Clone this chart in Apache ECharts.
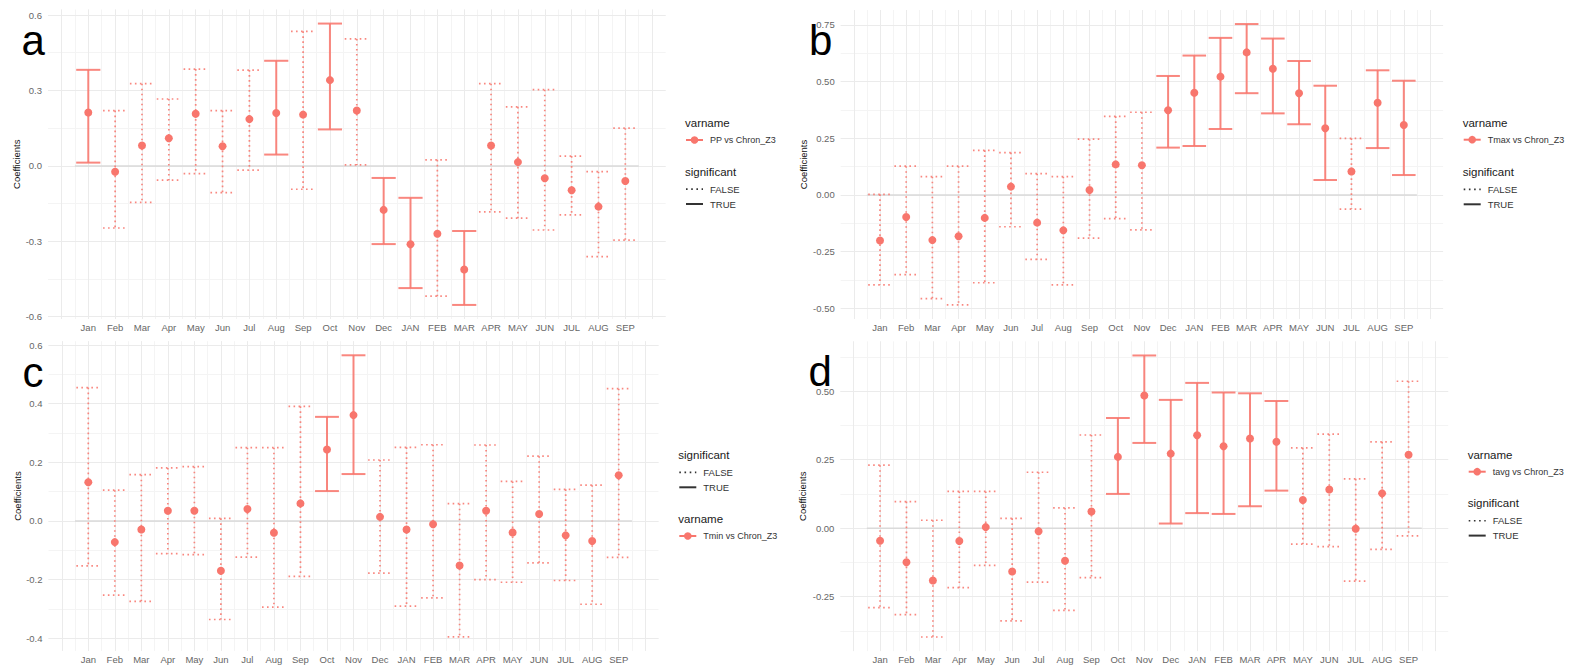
<!DOCTYPE html>
<html>
<head>
<meta charset="utf-8">
<script src="https://cdn.jsdelivr.net/npm/echarts@6/dist/echarts.min.js"></script>
<style>
html, body { margin: 0; padding: 0; background: #fff; }
#chart { width: 1576px; height: 667px; }
</style>
</head>
<body>
<div id="chart"></div>
<script>
// categories (hydrological year: previous Jan..Dec, current JAN..SEP)
var months = ['Jan', 'Feb', 'Mar', 'Apr', 'May', 'Jun', 'Jul', 'Aug', 'Sep', 'Oct', 'Nov', 'Dec',
    'JAN', 'FEB', 'MAR', 'APR', 'MAY', 'JUN', 'JUL', 'AUG', 'SEP'];

// a: PP vs Chron_Z3
var ppEst = [0.212, -0.023, 0.081, 0.110, 0.207, 0.078, 0.186, 0.210, 0.204, 0.341, 0.220, -0.175,
    -0.312, -0.270, -0.412, 0.081, 0.015, -0.049, -0.097, -0.162, -0.060];
var ppLow = [0.013, -0.247, -0.145, -0.057, -0.031, -0.106, -0.017, 0.045, -0.093, 0.145, 0.004, -0.311,
    -0.486, -0.518, -0.553, -0.183, -0.208, -0.255, -0.195, -0.361, -0.295];
var ppHigh = [0.382, 0.220, 0.327, 0.266, 0.385, 0.220, 0.381, 0.418, 0.535, 0.566, 0.505, -0.048,
    -0.127, 0.024, -0.259, 0.327, 0.235, 0.303, 0.039, -0.023, 0.150];
var ppSig = [1, 0, 0, 0, 0, 0, 0, 1, 0, 1, 0, 1, 1, 0, 1, 0, 0, 0, 0, 0, 0];

// b: Tmax vs Chron_Z3
var tmaxEst = [-0.201, -0.097, -0.199, -0.182, -0.101, 0.037, -0.122, -0.156, 0.022, 0.135, 0.131, 0.374,
    0.451, 0.522, 0.629, 0.557, 0.449, 0.294, 0.104, 0.407, 0.309];
var tmaxLow = [-0.396, -0.351, -0.457, -0.485, -0.387, -0.140, -0.284, -0.396, -0.190, -0.104, -0.154, 0.209,
    0.216, 0.291, 0.449, 0.360, 0.312, 0.066, -0.062, 0.207, 0.088];
var tmaxHigh = [0.003, 0.127, 0.081, 0.127, 0.197, 0.187, 0.094, 0.081, 0.246, 0.347, 0.365, 0.525,
    0.615, 0.693, 0.754, 0.690, 0.591, 0.482, 0.250, 0.550, 0.504];
var tmaxSig = [0, 0, 0, 0, 0, 0, 0, 0, 0, 0, 0, 1, 1, 1, 1, 1, 1, 1, 0, 1, 1];

// c: Tmin vs Chron_Z3
var tminEst = [0.132, -0.072, -0.029, 0.035, 0.035, -0.170, 0.041, -0.040, 0.060, 0.244, 0.361, 0.014,
    -0.029, -0.011, -0.152, 0.035, -0.039, 0.024, -0.049, -0.068, 0.156];
var tminLow = [-0.153, -0.253, -0.274, -0.111, -0.115, -0.336, -0.123, -0.294, -0.189, 0.102, 0.160, -0.178,
    -0.290, -0.262, -0.395, -0.200, -0.209, -0.143, -0.203, -0.284, -0.124];
var tminHigh = [0.455, 0.105, 0.158, 0.181, 0.185, 0.009, 0.250, 0.250, 0.391, 0.355, 0.565, 0.208,
    0.251, 0.260, 0.059, 0.259, 0.135, 0.221, 0.108, 0.122, 0.451];
var tminSig = [0, 0, 0, 0, 0, 0, 0, 0, 0, 1, 1, 0, 0, 0, 0, 0, 0, 0, 0, 0, 0];

// d: tavg vs Chron_Z3
var tavgEst = [-0.046, -0.124, -0.191, -0.047, 0.004, -0.158, -0.011, -0.119, 0.061, 0.260, 0.484, 0.272,
    0.339, 0.299, 0.327, 0.315, 0.103, 0.141, -0.002, 0.127, 0.268];
var tavgLow = [-0.290, -0.315, -0.397, -0.217, -0.136, -0.338, -0.197, -0.300, -0.180, 0.125, 0.311, 0.017,
    0.055, 0.052, 0.080, 0.137, -0.058, -0.067, -0.193, -0.077, -0.028];
var tavgHigh = [0.230, 0.097, 0.029, 0.134, 0.134, 0.036, 0.204, 0.074, 0.340, 0.402, 0.630, 0.468,
    0.530, 0.495, 0.492, 0.464, 0.293, 0.343, 0.180, 0.315, 0.536];
var tavgSig = [0, 0, 0, 0, 0, 0, 0, 0, 0, 1, 1, 1, 1, 1, 1, 1, 0, 0, 0, 0, 0];

var RED = '#F8766D';
var FONT = '"Liberation Sans", Arial, sans-serif';

var panels = [
    { letter: 'a', name: 'PP vs Chron_Z3', est: ppEst, low: ppLow, high: ppHigh, sig: ppSig,
      major: 0.3, digits: 1, grid: { left: 48, top: 9.5, width: 617.6, height: 309.5 },
      nameGap: 26, letterPos: [21.5, 40.5], legX: 685, varY: 123.3, sigY: 171.7 },
    { letter: 'b', name: 'Tmax vs Chron_Z3', est: tmaxEst, low: tmaxLow, high: tmaxHigh, sig: tmaxSig,
      major: 0.25, digits: 2, grid: { left: 840.7, top: 10, width: 602.4, height: 309 },
      nameGap: 32.5, letterPos: [809, 40.5], legX: 1462.7, varY: 123, sigY: 172 },
    { letter: 'c', name: 'Tmin vs Chron_Z3', est: tminEst, low: tminLow, high: tminHigh, sig: tminSig,
      major: 0.2, digits: 1, grid: { left: 48.5, top: 341.2, width: 610, height: 309.7 },
      nameGap: 26.5, letterPos: [22.5, 372.5], legX: 678.3, varY: 519.3, sigY: 455 },
    { letter: 'd', name: 'tavg vs Chron_Z3', est: tavgEst, low: tavgLow, high: tavgHigh, sig: tavgSig,
      major: 0.25, digits: 2, grid: { left: 840.4, top: 341.4, width: 607.8, height: 309.7 },
      nameGap: 32.5, letterPos: [808.5, 371.5], legX: 1467.7, varY: 455, sigY: 503.3 }
];

function isMultiple(v, step) {
    var k = Math.round(v / step);
    return Math.abs(v - k * step) < 1e-6;
}

function renderErrorBar(params, api) {
    var x = api.value(0);
    var top = api.coord([x, api.value(2)]);
    var bot = api.coord([x, api.value(1)]);
    var half = api.size([0.9, 0])[0] / 2;
    var solid = api.value(3) === 1;
    var style = {
        stroke: RED,
        fill: null,
        lineWidth: solid ? 2 : 1.7,
        lineDash: solid ? null : [1.6, 3.4],
        opacity: 0.88
    };
    return {
        type: 'group',
        children: [
            { type: 'line', shape: { x1: top[0], y1: top[1], x2: bot[0], y2: bot[1] }, style: style },
            { type: 'line', shape: { x1: top[0] - half, y1: top[1], x2: top[0] + half, y2: top[1] }, style: style },
            { type: 'line', shape: { x1: bot[0] - half, y1: bot[1], x2: bot[0] + half, y2: bot[1] }, style: style }
        ]
    };
}

// grid lines without the frame at the panel edges
function gridLine(color) {
    return { showMinLine: false, showMaxLine: false, lineStyle: { color: color, width: 1 } };
}

var grids = [], xAxes = [], yAxes = [], series = [], graphics = [];

panels.forEach(function (p, i) {
    grids.push(p.grid);

    var lo = Math.min.apply(null, p.low);
    var hi = Math.max.apply(null, p.high);
    var span = hi - lo;
    var yMin = lo - 0.05 * span;
    var yMax = hi + 0.05 * span;
    var xMax = months.length + 1.5;

    // major x axis (labels + major lines)
    xAxes.push({
        type: 'value', gridIndex: i, min: -0.5, max: xMax, minInterval: 1, maxInterval: 1, z: 1,
        axisLine: { show: false }, axisTick: { show: false },
        axisLabel: {
            margin: 3.5, fontSize: 9.5, color: '#666', fontFamily: FONT,
            formatter: function (v) {
                var k = Math.round(v);
                return (isMultiple(v, 1) && k >= 1 && k <= months.length) ? months[k - 1] : '';
            }
        },
        splitLine: gridLine('#ebebeb')
    });
    // minor x axis (half-step lines)
    xAxes.push({
        type: 'value', gridIndex: i, min: -0.5, max: xMax, interval: 0.5, z: 0, position: 'bottom',
        axisLine: { show: false }, axisTick: { show: false }, axisLabel: { show: false },
        splitLine: gridLine('#f4f4f4')
    });

    // major y axis
    yAxes.push({
        type: 'value', gridIndex: i, min: yMin, max: yMax, minInterval: p.major, maxInterval: p.major, z: 1,
        name: 'Coefficients', nameLocation: 'middle', nameGap: p.nameGap,
        nameTextStyle: { fontSize: 9.5, color: '#111', fontFamily: FONT },
        axisLine: { show: false }, axisTick: { show: false },
        axisLabel: {
            margin: 6, fontSize: 9.5, color: '#666', fontFamily: FONT,
            formatter: function (v) {
                if (!isMultiple(v, p.major)) return '';
                return (Math.round(v / p.major) * p.major).toFixed(p.digits);
            }
        },
        splitLine: gridLine('#ebebeb')
    });
    // minor y axis
    yAxes.push({
        type: 'value', gridIndex: i, min: yMin, max: yMax, minInterval: p.major / 2, maxInterval: p.major / 2,
        z: 0, position: 'left',
        axisLine: { show: false }, axisTick: { show: false }, axisLabel: { show: false },
        splitLine: gridLine('#f4f4f4')
    });

    // zero reference line
    series.push({
        type: 'line', xAxisIndex: 2 * i, yAxisIndex: 2 * i, silent: true, symbol: 'none', z: 2,
        data: [[0.5, 0], [months.length + 0.5, 0]],
        lineStyle: { color: '#dadada', width: 1.5 }
    });

    // error bars
    series.push({
        type: 'custom', xAxisIndex: 2 * i, yAxisIndex: 2 * i, z: 3, silent: true,
        renderItem: renderErrorBar,
        encode: { x: 0, y: [1, 2] },
        data: months.map(function (m, j) { return [j + 1, p.low[j], p.high[j], p.sig[j]]; })
    });

    // point estimates
    series.push({
        type: 'scatter', name: p.name, xAxisIndex: 2 * i, yAxisIndex: 2 * i, z: 4,
        symbolSize: 8, itemStyle: { color: RED, opacity: 1 },
        data: months.map(function (m, j) { return [j + 1, p.est[j]]; })
    });

    // panel letter
    graphics.push({
        type: 'text', x: p.letterPos[0], y: p.letterPos[1],
        style: { text: p.letter, font: '42px ' + FONT, fill: '#000', verticalAlign: 'middle' }
    });

    // legend: varname
    var lx = p.legX;
    graphics.push({ type: 'text', x: lx, y: p.varY,
        style: { text: 'varname', font: '11.5px ' + FONT, fill: '#1a1a1a', verticalAlign: 'middle' } });
    graphics.push({ type: 'line', shape: { x1: lx + 1, y1: p.varY + 16.7, x2: lx + 18, y2: p.varY + 16.7 },
        style: { stroke: RED, lineWidth: 2 } });
    graphics.push({ type: 'circle', shape: { cx: lx + 9.5, cy: p.varY + 16.7, r: 3.8 },
        style: { fill: RED } });
    graphics.push({ type: 'text', x: lx + 25, y: p.varY + 16.7,
        style: { text: p.name, font: '9px ' + FONT, fill: '#333', verticalAlign: 'middle' } });

    // legend: significant
    graphics.push({ type: 'text', x: lx, y: p.sigY,
        style: { text: 'significant', font: '11.5px ' + FONT, fill: '#1a1a1a', verticalAlign: 'middle' } });
    graphics.push({ type: 'line', shape: { x1: lx + 1, y1: p.sigY + 17.4, x2: lx + 18, y2: p.sigY + 17.4 },
        style: { stroke: '#333', lineWidth: 1.6, lineDash: [1.6, 3.6] } });
    graphics.push({ type: 'text', x: lx + 25, y: p.sigY + 17.4,
        style: { text: 'FALSE', font: '9.5px ' + FONT, fill: '#333', verticalAlign: 'middle' } });
    graphics.push({ type: 'line', shape: { x1: lx + 1, y1: p.sigY + 32.3, x2: lx + 18, y2: p.sigY + 32.3 },
        style: { stroke: '#333', lineWidth: 2 } });
    graphics.push({ type: 'text', x: lx + 25, y: p.sigY + 32.3,
        style: { text: 'TRUE', font: '9.5px ' + FONT, fill: '#333', verticalAlign: 'middle' } });
});

var chart = echarts.init(document.getElementById('chart'), null, { renderer: 'svg' });
chart.setOption({
    backgroundColor: '#fff',
    animation: false,
    grid: grids,
    xAxis: xAxes,
    yAxis: yAxes,
    series: series,
    graphic: graphics
});
</script>
</body>
</html>
